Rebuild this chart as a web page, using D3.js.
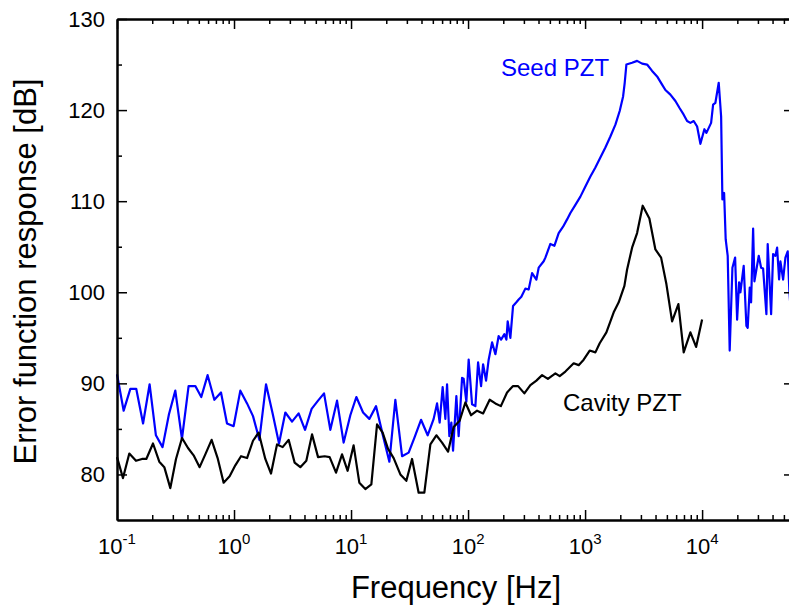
<!DOCTYPE html>
<html>
<head>
<meta charset="utf-8">
<script src="https://cdn.jsdelivr.net/npm/d3@7"></script>
<style>
  body { margin: 0; background: #fff; }
  text { font-family: "Liberation Sans", Arial, sans-serif; }
</style>
</head>
<body>
<div id="chart"></div>
<script>
const WIDTH = 789;
const HEIGHT = 608;

// Seed PZT (blue trace)
const seedFreq = [0.100, 0.114, 0.130, 0.146, 0.167, 0.190, 0.215, 0.245, 0.278, 0.315,
  0.359, 0.409, 0.467, 0.525, 0.595, 0.679, 0.774, 0.871, 0.992, 1.132,
  1.292, 1.453, 1.646, 1.877, 2.138, 2.424, 2.745, 3.131, 3.566, 4.044,
  4.605, 5.224, 5.878, 6.654, 7.592, 8.645, 9.86, 11.10, 12.67, 14.33,
  16.36, 18.63, 21.26, 23.91, 27.29, 31.07, 34.96, 39.64, 45.16, 50.82,
  54.33, 57.19, 60.66, 63.98, 66.15, 69.22, 71.99, 74.43, 79.43, 83.1,
  88.87, 91.7, 96.7, 101.2, 108.2, 115.5, 121.8, 129.2, 134.4, 142.5,
  150.0, 160.4, 171.2, 182.6, 191.5, 204.4, 212.6, 218.1, 229.9, 242.4,
  258.7, 270.7, 285.4, 308.7, 329.6, 352.4, 383.6, 401.3, 442.9, 457.9,
  505.1, 546.5, 594.9, 648.6, 701.8, 748.8, 826.2, 911.9, 1006, 1110,
  1225, 1351, 1491, 1645, 1816, 1976, 2113, 2181, 2254, 2522,
  2783, 3071, 3388, 3739, 4126, 4551, 4858, 5358, 5913, 6435,
  6962, 7444, 7943, 8479, 9066, 9672, 10460, 10890, 11940, 12420,
  12990, 13870, 14540, 14910, 15420, 15910, 16550, 17210, 18160, 19150,
  19920, 20710, 21250, 22670, 23910, 24530, 25520, 26230, 27290, 27990,
  30470, 31930, 33210, 35440, 36360, 38880, 40440, 42320, 43750, 45500,
  46690, 49230, 51520, 53900, 55750, 58330];
const seedDb = [91.0, 87.0, 89.4, 89.4, 85.6, 89.9, 84.3, 83.0, 86.6, 89.2,
  83.9, 89.7, 89.7, 88.5, 90.9, 88.2, 89.0, 85.6, 85.3, 89.2,
  87.8, 86.4, 83.8, 89.9, 86.7, 83.4, 86.8, 85.8, 86.7, 84.9,
  87.2, 88.1, 88.9, 84.9, 88.1, 83.5, 86.5, 88.5, 86.8, 86.1,
  87.5, 84.4, 81.4, 88.2, 82.0, 82.4, 84.1, 86.0, 84.3, 86.1,
  87.8, 85.7, 89.6, 86.1, 89.9, 84.2, 85.7, 82.6, 88.6, 84.2,
  90.6, 90.5, 88.0, 92.6, 87.7, 87.5, 92.3, 89.7, 92.1, 90.3,
  92.6, 94.5, 93.2, 95.2, 94.8, 95.4, 94.8, 96.8, 95.0, 98.5,
  98.9, 99.2, 99.5, 100.4, 100.3, 102.1, 101.4, 102.7, 103.4, 103.8,
  105.3, 105.1, 106.5, 107.2, 108.0, 108.7, 109.6, 110.5, 111.6, 112.7,
  113.7, 114.8, 115.9, 117.1, 118.4, 119.9, 121.5, 123.0, 125.0, 125.2,
  125.4, 125.1, 125.0, 124.3, 123.7, 122.8, 122.2, 121.7, 121.0, 120.2,
  119.5, 118.8, 118.6, 118.8, 118.2, 116.3, 117.9, 117.5, 118.6, 120.6,
  120.8, 123.0, 119.3, 110.2, 110.9, 105.8, 104.0, 93.6, 102.7, 103.8,
  97.0, 101.1, 100.0, 102.9, 96.3, 96.1, 100.5, 98.9, 107.0, 101.2,
  104.0, 102.7, 102.6, 97.6, 105.3, 97.6, 104.2, 104.0, 104.9, 101.4,
  103.4, 101.4, 103.8, 104.5, 100.0, 96.5];

// Cavity PZT (black trace)
const cavityFreq = [0.100, 0.1125, 0.1274, 0.1453, 0.1636, 0.1780, 0.2031, 0.2298, 0.2537, 0.2855,
  0.3193, 0.3594, 0.4044, 0.4516, 0.5082, 0.5685, 0.6435, 0.7242, 0.8150, 0.9171,
  1.026, 1.148, 1.292, 1.453, 1.623, 1.851, 2.071, 2.331, 2.603, 2.929,
  3.296, 3.687, 4.148, 4.642, 5.224, 5.951, 6.564, 7.443, 8.377, 9.352,
  10.52, 11.77, 13.25, 14.91, 16.68, 18.63, 20.71, 23.13, 26.39, 29.70,
  33.22, 37.82, 42.31, 47.63, 53.60, 59.96, 67.47, 75.33, 84.77, 94.82,
  106.1, 119.4, 134.4, 153.0, 171.2, 190.7, 215.4, 242.4, 267.6, 302.8,
  340.8, 383.6, 429.1, 481.0, 557.5, 606.7, 678.7, 799.1, 881.8, 972.7,
  1095, 1225, 1333, 1521, 1756, 1938, 2168, 2286, 2522, 2783,
  3107, 3544, 3989, 4463, 4953, 5541, 6271, 6962, 7943, 8887, 10000];
const cavityDb = [81.9, 79.6, 82.3, 81.5, 81.7, 81.7, 83.4, 81.4, 80.8, 78.5,
  81.7, 84.0, 82.9, 82.1, 80.8, 82.2, 83.8, 81.8, 79.1, 79.8,
  81.0, 82.0, 81.8, 83.7, 84.6, 81.7, 80.1, 83.3, 83.0, 83.8,
  81.3, 80.8, 81.5, 84.4, 81.9, 82.0, 81.9, 80.2, 82.2, 80.4,
  83.2, 79.1, 78.4, 78.9, 85.5, 84.6, 82.8, 81.8, 80.0, 79.3,
  81.7, 78.0, 78.0, 83.3, 84.3, 83.5, 82.5, 85.2, 85.9, 87.9,
  86.5, 87.0, 86.7, 88.2, 87.8, 87.5, 89.0, 89.7, 89.7, 88.9,
  89.8, 90.3, 90.9, 90.5, 91.1, 90.8, 91.3, 92.2, 92.0, 92.6,
  93.6, 93.4, 94.4, 95.6, 97.8, 98.9, 100.7, 102.5, 104.9, 106.5,
  109.5, 108.1, 104.7, 103.8, 100.9, 96.8, 98.7, 93.4, 95.6, 94.0, 97.0];

const yTicks = [80, 90, 100, 110, 120, 130];
const yMinorTicks = [85, 95, 105, 115, 125];
const xExponents = [-1, 0, 1, 2, 3, 4];
const X_DOMAIN = [0.1, 61000];
const Y_DOMAIN = [75, 130];

const svg = d3.select("#chart")
  .append("svg")
  .attr("width", WIDTH)
  .attr("height", HEIGHT);

const plot = {left: 117, right: 794, top: 19, bottom: 520};

const x = d3.scaleLog().domain(X_DOMAIN).range([plot.left, plot.right]);
const y = d3.scaleLinear().domain(Y_DOMAIN).range([plot.bottom, plot.top]);

const xMajor = xExponents.map(e => Math.pow(10, e));
const xMinor = [];
xExponents.forEach(e => {
  for (let m = 2; m <= 9; m++) {
    const v = m * Math.pow(10, e);
    if (v < X_DOMAIN[1]) xMinor.push(v);
  }
});

// traces
const line = d3.line()
  .x(d => x(d[0]))
  .y(d => y(d[1]));

svg.append("path")
  .datum(d3.zip(seedFreq, seedDb))
  .attr("fill", "none")
  .attr("stroke", "#0000ff")
  .attr("stroke-width", 2.2)
  .attr("stroke-linejoin", "round")
  .attr("d", line);

svg.append("path")
  .datum(d3.zip(cavityFreq, cavityDb))
  .attr("fill", "none")
  .attr("stroke", "#000")
  .attr("stroke-width", 2.2)
  .attr("stroke-linejoin", "round")
  .attr("d", line);

// frame with inward ticks on all four sides
function addAxis(axisFn, scale, pos, values, size) {
  const g = svg.append("g")
    .attr("transform", pos)
    .call(axisFn(scale).tickValues(values).tickSizeInner(-size).tickSizeOuter(0).tickFormat(""));
  g.selectAll(".domain").attr("stroke", "#000").attr("stroke-width", 2);
  g.selectAll(".tick line").attr("stroke", "#000").attr("stroke-width", 1.5);
  return g;
}

const sides = [
  [d3.axisBottom, x, `translate(0,${plot.bottom})`, xMajor, xMinor],
  [d3.axisTop, x, `translate(0,${plot.top})`, xMajor, xMinor],
  [d3.axisLeft, y, `translate(${plot.left},0)`, yTicks, yMinorTicks],
  [d3.axisRight, y, `translate(${plot.right},0)`, yTicks, yMinorTicks]
];
sides.forEach(([fn, sc, pos, major, minor]) => {
  addAxis(fn, sc, pos, minor, 5);
  addAxis(fn, sc, pos, major, 10);
});

// tick labels
svg.append("g").selectAll("text")
  .data(yTicks)
  .enter().append("text")
  .attr("x", plot.left - 12)
  .attr("y", d => y(d))
  .attr("dy", "0.35em")
  .attr("text-anchor", "end")
  .attr("font-size", 22)
  .text(d => d);

const xLabels = svg.append("g").selectAll("text")
  .data(xExponents)
  .enter().append("text")
  .attr("x", d => x(Math.pow(10, d)))
  .attr("y", 554)
  .attr("text-anchor", "middle")
  .attr("font-size", 22);
xLabels.append("tspan").text("10");
xLabels.append("tspan")
  .attr("dy", -10)
  .attr("font-size", 15)
  .text(d => d);

// axis titles
svg.append("text")
  .attr("x", 456)
  .attr("y", 598)
  .attr("text-anchor", "middle")
  .attr("font-size", 31)
  .text("Frequency [Hz]");

svg.append("text")
  .attr("transform", `translate(36,${(plot.top + plot.bottom) / 2 + 2}) rotate(-90)`)
  .attr("text-anchor", "middle")
  .attr("font-size", 31)
  .text("Error function response [dB]");

// trace labels
svg.append("text")
  .attr("x", 501)
  .attr("y", 76)
  .attr("font-size", 24)
  .attr("fill", "#0000ff")
  .text("Seed PZT");

svg.append("text")
  .attr("x", 563)
  .attr("y", 411)
  .attr("font-size", 24)
  .attr("fill", "#000")
  .text("Cavity PZT");
</script>
</body>
</html>
